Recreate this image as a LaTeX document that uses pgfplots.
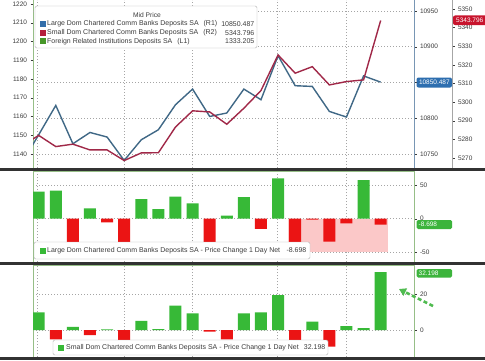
\documentclass[border=0pt]{standalone}
\usepackage{pgfplots}
\pgfplotsset{compat=1.18}
\usepackage{fontspec}
\setmainfont{Liberation Sans}
\usetikzlibrary{arrows.meta}

\definecolor{lblue}{RGB}{64,104,134}
\definecolor{lred}{RGB}{160,40,72}
\definecolor{sqblue}{RGB}{50,110,170}
\definecolor{sqred}{RGB}{180,30,60}
\definecolor{sqgreen}{RGB}{70,150,40}
\definecolor{bgreen}{RGB}{55,185,55}
\definecolor{bred}{RGB}{235,20,20}
\definecolor{pinkfill}{RGB}{251,200,200}
\definecolor{gridc}{RGB}{165,165,165}
\definecolor{sepc}{RGB}{50,50,50}
\definecolor{txt}{RGB}{60,60,60}
\definecolor{tagblue}{RGB}{45,110,175}
\definecolor{tagred}{RGB}{200,20,45}
\definecolor{taggreen}{RGB}{60,180,60}
\definecolor{axgreen}{RGB}{150,190,135}
\definecolor{axblue}{RGB}{120,150,180}

\pgfplotsset{
  base/.style={scale only axis, width=381bp, xmin=-0.333, xmax=21.95, anchor=south west,
    tick align=outside, major tick length=2.5bp,
    ticklabel style={font=\fontsize{6.5}{7}\selectfont, text=txt},
    /pgf/number format/assume math mode=true,
    scaled y ticks=false},
  gridst/.style={grid style={gridc, line width=0.8bp, dash pattern=on 1bp off 2bp}},
  vgrid/.style={xtick={-0.06,5.03,9,13.98,18}, xticklabels={}, xtick style={draw=none}, xmajorgrids},
}

\pgfplotstableread{
x y
-1 10736.8
0 10776.9
1 10817.9
2 10764.3
3 10780.1
4 10773.7
5 10741.0
6 10769.9
7 10783.9
8 10818.9
9 10840.8
10 10802.5
11 10807.3
12 10840.8
13 10825.9
14 10887.4
15 10845.5
16 10844.5
17 10809.5
18 10801.7
19 10859.2
20 10850.487
}\largetab

\pgfplotstableread{
x y
-1 5276.4
0 5282.1
1 5276.1
2 5277.4
3 5274.3
4 5274.3
5 5268.6
6 5272.7
7 5272.8
8 5286.6
9 5295.3
10 5294.7
11 5288.1
12 5296.7
13 5306.2
14 5325.3
15 5315.5
16 5319.0
17 5309.2
18 5311.0
19 5311.9
20 5343.796
}\smalltab

\begin{document}
\begin{tikzpicture}[x=1bp,y=1bp]
\useasboundingbox (0,0) rectangle (485,360);
\fill[white] (0,0) rectangle (485,360);

% ---------- Panel 1 ----------
% left axis (L1)
\begin{axis}[base, at={(33bp,192bp)}, height=168bp, ymin=1132.5, ymax=1222.1,
  hide x axis, axis y line*=left, y axis line style={draw=axgreen, line width=0.8bp},
  ytick={1140,1150,...,1220}, yticklabels={1140,1150,1160,1170,1180,1190,1200,1210,1220},
  ytick style={draw=txt}]
\end{axis}
% R1 axis with blue line
\begin{axis}[base, gridst, vgrid, at={(33bp,192bp)}, height=168bp, ymin=10730.4, ymax=10965.4,
  axis x line*=bottom, x axis line style={draw=none},
  axis y line*=right, y axis line style={draw=axblue, line width=0.8bp},
  ymajorgrids, ytick={10750,10800,...,10950}, yticklabels={10750,10800,{},10900,10950},
  ytick style={draw=txt}]
\addplot[lblue, line width=1.4bp, mark=none] table[x=x,y=y] {\largetab};
\end{axis}
% R2 red line
\begin{axis}[base, hide axis, at={(33bp,192bp)}, height=168bp, ymin=5264.6, ymax=5354.8]
\addplot[lred, line width=1.4bp, mark=none] table[x=x,y=y] {\smalltab};
\end{axis}
% R2 axis (offset)
\begin{axis}[scale only axis, anchor=south west, at={(33bp,192bp)}, width=419bp, height=168bp,
  xmin=0, xmax=1, ymin=5264.6, ymax=5354.8, hide x axis, axis y line*=right,
  y axis line style={draw=gray!70, line width=0.7bp},
  tick align=outside, major tick length=2.5bp,
  ticklabel style={font=\fontsize{6.5}{7}\selectfont, text=txt},
  /pgf/number format/assume math mode=true, scaled y ticks=false,
  ytick={5270,5280,...,5350}, yticklabels={5270,5280,5290,5300,5310,5320,5330,5340,5350},
  ytick style={draw=txt}]
\end{axis}

% ---------- Panel 2 ----------
\begin{axis}[base, gridst, vgrid, at={(33bp,98bp)}, height=91bp, ymin=-64.9, ymax=71.5,
  ymajorgrids, ytick={-50,0,50}, yticklabels={-50,0,50}, ytick pos=right,
  axis line style={draw=axgreen, line width=0.8bp}, ytick style={draw=txt}]
\addplot[draw=none, fill=pinkfill, mark=none] coordinates {(14.56,0) (20.4,0) (20.4,-50) (14.56,-50)} --cycle;
\addplot[ybar, bar width=12bp, bar shift=0pt, fill=bgreen, draw=none] coordinates {
(0,40.5) (1,42) (3,15.6) (6,29.5) (7,14.5) (8,33) (9,23) (11,4.5) (12,32.5) (14,60.6) (19,58)};
\addplot[ybar, bar width=12bp, bar shift=0pt, fill=bred, draw=none] coordinates {
(2,-53) (4,-5.4) (5,-36) (10,-38) (13,-15.4) (15,-36.9) (16,-1.5) (17,-34.5) (18,-6.9) (20,-8.698)};
\end{axis}

% ---------- Panel 3 ----------
\begin{axis}[base, gridst, vgrid, at={(33bp,3bp)}, height=92bp, ymin=-15, ymax=36.1,
  ymajorgrids, ytick={0,20}, yticklabels={0,20}, ytick pos=right,
  axis line style={draw=axgreen, line width=0.8bp}, ytick style={draw=txt}]
\addplot[ybar, bar width=12bp, bar shift=0pt, fill=bgreen, draw=none] coordinates {
(0,9.8) (2,1.8) (4,0.3) (6,5) (7,0.5) (8,13.5) (9,9.3) (12,9.3) (13,9.8) (14,19.4) (16,4.6) (18,2.2) (19,1.1) (20,32.198)};
\addplot[ybar, bar width=12bp, bar shift=0pt, fill=bred, draw=none] coordinates {
(1,-5.2) (3,-2.8) (5,-5.5) (10,-0.9) (11,-5.2) (15,-8) (17,-9.3)};
\end{axis}

% ---------- separators ----------
\draw[sepc, line width=2.5bp] (0,190.5) -- (485,190.5);
\draw[sepc, line width=2.5bp] (0,96.5) -- (485,96.5);
\draw[sepc, line width=2.5bp] (0,1.5) -- (485,1.5);

% ---------- legend panel 1 ----------
\draw[gray!60, fill=white, rounded corners=1.5bp] (35,312) rectangle (257,354);
\node[font=\fontsize{6.7}{7}\selectfont, text=txt] at (147,345) {Mid Price};
\fill[sqblue] (39.5,333) rectangle (45.5,339);
\fill[sqred] (39.5,324) rectangle (45.5,330);
\fill[sqgreen] (39.5,316) rectangle (45.5,322);
\begin{scope}[every node/.style={font=\fontsize{7}{8}\selectfont, text=txt, inner sep=0pt}]
\node[anchor=west] at (47,336) {Large Dom Chartered Comm Banks Deposits SA\hspace{3bp} (R1)};
\node[anchor=west] at (47,327) {Small Dom Chartered Comm Banks Deposits SA\hspace{3bp} (R2)};
\node[anchor=west] at (47,318.7) {Foreign Related Institutions Deposits SA\hspace{3bp} (L1)};
\node[anchor=east] at (254.5,336) {10850.487};
\node[anchor=east] at (254.5,327) {5343.796};
\node[anchor=east] at (254.5,318.7) {1333.205};
\end{scope}

% ---------- legend panel 2 ----------
\draw[gray!60, fill=white, rounded corners=1.5bp] (34,101) rectangle (310,118);
\fill[bgreen] (39.5,106.5) rectangle (45.5,112.5);
\node[font=\fontsize{7}{8}\selectfont, text=txt, inner sep=0pt, anchor=west] at (47,109.5) {Large Dom Chartered Comm Banks Deposits SA - Price Change 1 Day Net};
\node[font=\fontsize{7}{8}\selectfont, text=txt, inner sep=0pt, anchor=east] at (306.5,109.5) {-8.698};

% ---------- legend panel 3 ----------
\draw[gray!60, fill=white, rounded corners=1.5bp] (53,5) rectangle (328,20);
\fill[bgreen] (57.5,9.5) rectangle (63.5,15.5);
\node[font=\fontsize{7}{8}\selectfont, text=txt, inner sep=0pt, anchor=west] at (66,12.5) {Small Dom Chartered Comm Banks Deposits SA - Price Change 1 Day Net};
\node[font=\fontsize{7}{8}\selectfont, text=txt, inner sep=0pt, anchor=east] at (325.5,12.5) {32.198};

% ---------- value tags ----------
\fill[tagblue, rounded corners=2bp] (416.5,272.5) rectangle (452,282.5);
\node[font=\fontsize{6.5}{7}\selectfont, text=white, inner sep=0pt] at (434.3,277.5) {10850.487};
\fill[tagred, rounded corners=2bp] (453,335) rectangle (492,344.5);
\node[font=\fontsize{6.5}{7}\selectfont, text=white, inner sep=0pt, anchor=west] at (456,339.7) {5343.796};
\fill[taggreen, rounded corners=1.5bp] (416.5,131) rectangle (452,140);
\node[font=\fontsize{6.5}{7}\selectfont, text=white, inner sep=0pt, anchor=west] at (418.5,135.5) {-8.698};
\fill[taggreen, rounded corners=1.5bp] (416.5,82.5) rectangle (452,91);
\node[font=\fontsize{6.5}{7}\selectfont, text=white, inner sep=0pt, anchor=west] at (418.5,86.8) {32.198};

% ---------- annotation arrow ----------
\draw[taggreen!90, line width=2.6bp, dash pattern=on 4bp off 2.5bp, -{Triangle[length=7bp,width=8bp]}] (433,54) -- (399,71);
\end{tikzpicture}
\end{document}
